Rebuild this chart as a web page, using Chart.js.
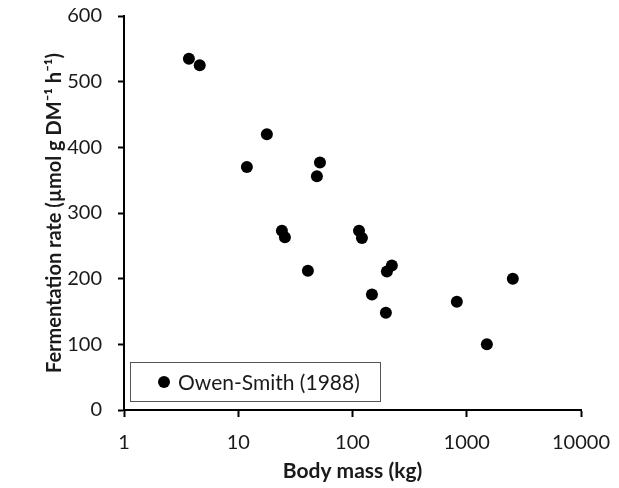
<!DOCTYPE html>
<html>
<head>
<meta charset="utf-8">
<script src="https://cdn.jsdelivr.net/npm/chart.js@4.4.1/dist/chart.umd.min.js"></script>
<style>
  html, body { margin: 0; padding: 0; background: #fff; }
  canvas { display: block; }
</style>
</head>
<body>
<canvas id="chart" width="619" height="488"></canvas>
<script>
// Data
const bodyMass = [3.7, 4.6, 11.9, 17.8, 51.9, 48.8, 24.1, 25.6, 114, 121, 40.7, 148, 196, 200, 221, 819, 2530, 1500];
const fermentationRate = [535, 525, 370, 420, 377, 356, 273, 263, 273, 262, 212, 176, 148, 211, 220, 165, 200, 100];
const seriesLabel = 'Owen-Smith (1988)';
const xTickValues = [1, 10, 100, 1000, 10000];
const yTickValues = [0, 100, 200, 300, 400, 500, 600];
const xTitle = 'Body mass (kg)';
const yTitle = 'Fermentation rate (\u00b5mol g DM\u207b\u00b9 h\u207b\u00b9)';

const FONT = 'Lato, "Open Sans", sans-serif';
const TEXT = '#1a1a1a';

// Legend drawn as a boxed entry in the lower-left of the plot
const boxLegend = {
  id: 'boxLegend',
  afterDraw(chart) {
    const { ctx, chartArea } = chart;
    const ds = chart.data.datasets[0];
    const x = chartArea.left + 6;
    const y = chartArea.bottom - 48;
    const w = 250, h = 39;
    ctx.save();
    ctx.fillStyle = '#fff';
    ctx.fillRect(x, y, w, h);
    ctx.strokeStyle = '#555';
    ctx.lineWidth = 1;
    ctx.strokeRect(x + 0.5, y + 0.5, w, h);
    ctx.fillStyle = ds.backgroundColor;
    ctx.beginPath();
    ctx.arc(x + 34, y + 20, 6, 0, Math.PI * 2);
    ctx.fill();
    ctx.fillStyle = TEXT;
    ctx.font = '21px ' + FONT;
    ctx.textBaseline = 'middle';
    ctx.fillText(ds.label, x + 48, y + 21);
    ctx.restore();
  }
};

const ctx = document.getElementById('chart').getContext('2d');
new Chart(ctx, {
  type: 'scatter',
  data: {
    datasets: [{
      label: seriesLabel,
      data: bodyMass.map((m, i) => ({ x: m, y: fermentationRate[i] })),
      backgroundColor: '#000',
      borderWidth: 0,
      pointRadius: 6,
      pointHoverRadius: 6
    }]
  },
  options: {
    responsive: false,
    animation: false,
    layout: {
      padding: { left: 0, top: 16, right: 38, bottom: 0 }
    },
    plugins: {
      legend: { display: false },
      tooltip: { enabled: false }
    },
    scales: {
      x: {
        type: 'logarithmic',
        min: 1,
        max: 10000,
        afterFit: (scale) => {
          scale.height = 78;
          scale.paddingLeft = 0;
          scale.paddingRight = 30;
        },
        afterBuildTicks: (scale) => {
          scale.ticks = xTickValues.map(v => ({ value: v }));
        },
        border: { color: '#000', width: 2 },
        grid: {
          drawOnChartArea: false,
          drawTicks: true,
          tickLength: 7,
          tickColor: '#000',
          tickWidth: 2
        },
        ticks: {
          color: TEXT,
          font: { family: FONT, size: 20 },
          padding: 14,
          maxRotation: 0,
          callback: (v) => String(v)
        },
        title: {
          display: true,
          text: xTitle,
          color: TEXT,
          font: { family: FONT, size: 21, weight: 'bold' },
          padding: { top: 0, bottom: 4 }
        }
      },
      y: {
        min: 0,
        max: 600,
        afterFit: (scale) => {
          scale.width = 124;
          // keep the tick padding from pushing the plot top down
          scale.paddingTop = 10;
          scale.paddingBottom = 10;
        },
        afterBuildTicks: (scale) => {
          scale.ticks = yTickValues.map(v => ({ value: v }));
        },
        border: { color: '#000', width: 2 },
        grid: {
          drawOnChartArea: false,
          drawTicks: true,
          tickLength: 6,
          tickColor: '#000',
          tickWidth: 2
        },
        ticks: {
          color: TEXT,
          font: { family: FONT, size: 20 },
          padding: 16,
          callback: (v) => String(v)
        },
        title: {
          display: true,
          text: yTitle,
          color: TEXT,
          font: { family: FONT, size: 20, weight: 'bold' },
          padding: { top: 43, bottom: 0 }
        }
      }
    }
  },
  plugins: [boxLegend]
});
</script>
</body>
</html>
